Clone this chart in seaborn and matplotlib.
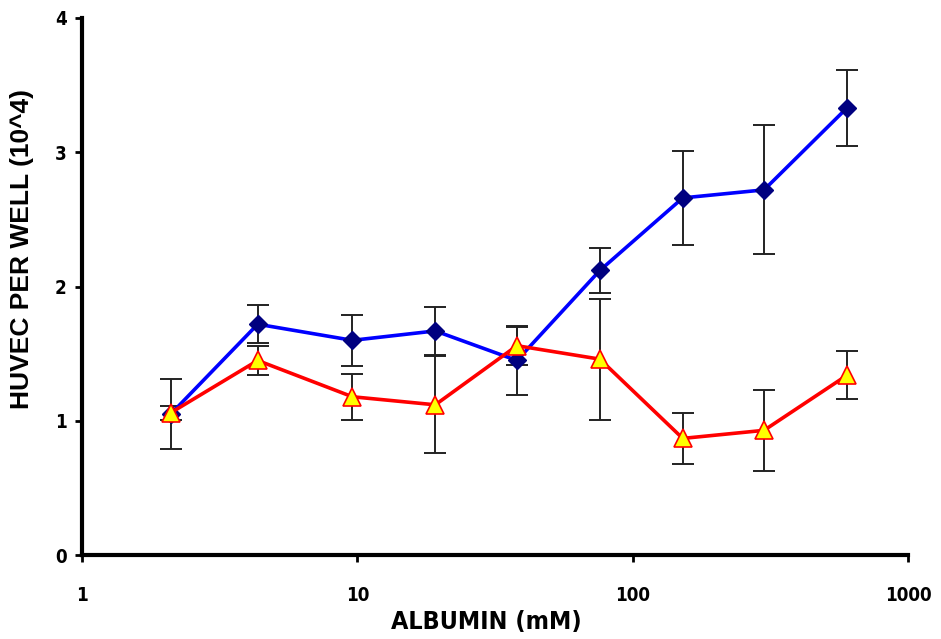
import matplotlib
matplotlib.use("Agg")
import matplotlib.pyplot as plt
from matplotlib import font_manager
from matplotlib.ticker import FixedLocator, NullLocator, FixedFormatter
import pandas as pd
import seaborn as sns

# Albumin concentration (mM) and HUVEC counts per well (x10^4)
albumin = [2.1, 4.35, 9.6, 19.2, 38.0, 76.0, 152.0, 300.0, 600.0]
huvec_blue = [1.05, 1.72, 1.60, 1.67, 1.45, 2.12, 2.66, 2.72, 3.33]
err_blue = [0.26, 0.14, 0.19, 0.18, 0.26, 0.17, 0.35, 0.48, 0.28]
huvec_red = [1.06, 1.45, 1.18, 1.12, 1.56, 1.46, 0.87, 0.93, 1.34]
err_red = [0.05, 0.11, 0.17, 0.36, 0.14, 0.45, 0.19, 0.30, 0.18]

x_ticks = [1, 10, 100, 1000]
x_tick_labels = ["1", "10", "100", "1000"]
y_ticks = [0, 1, 2, 3, 4]

sns.set_style("ticks")
plt.rcParams["font.family"] = ["Liberation Sans", "DejaVu Sans"]
plt.rcParams["text.color"] = "black"
plt.rcParams["axes.labelcolor"] = "black"
plt.rcParams["xtick.color"] = "black"
plt.rcParams["ytick.color"] = "black"

# condensed bold face for ticks and the x title, when one is installed
cond = None
for f in font_manager.fontManager.ttflist:
    if "Narrow" in f.name or ("Condensed" in f.fname and "Bold" in f.fname and "Sans" in f.fname
                              and "Oblique" not in f.fname and "Mono" not in f.fname):
        cond = f.fname
        break
if cond:
    narrow_props = dict(fname=cond)
else:
    narrow_props = dict(family="Liberation Sans", weight="bold")

blue = pd.DataFrame({"albumin": albumin, "huvec": huvec_blue})
red = pd.DataFrame({"albumin": albumin, "huvec": huvec_red})

fig = plt.figure(figsize=(9.41, 6.39), dpi=100)
ax = fig.add_axes([0.087, 0.131, 0.878, 0.841])

# error bars sit under the series lines and markers
ax.errorbar(albumin, huvec_blue, yerr=err_blue, fmt="none", ecolor="#222222",
            elinewidth=1.4, capsize=8, capthick=1.4, zorder=1)
ax.errorbar(albumin, huvec_red, yerr=err_red, fmt="none", ecolor="#222222",
            elinewidth=1.4, capsize=8, capthick=1.4, zorder=1)

sns.lineplot(data=blue, x="albumin", y="huvec", ax=ax, color="#0000FF",
             linewidth=2.6, marker="D", markersize=9, markerfacecolor="#000080",
             markeredgecolor="#000080", markeredgewidth=1, errorbar=None,
             estimator=None, zorder=3)
sns.lineplot(data=red, x="albumin", y="huvec", ax=ax, color="#FF0000",
             linewidth=2.6, marker="^", markersize=13, markerfacecolor="#FFFF00",
             markeredgecolor="#FF0000", markeredgewidth=1.2, errorbar=None,
             estimator=None, zorder=4)

ax.set_xscale("log")
ax.set_xlim(1, 1000)
ax.set_ylim(0, 4)
ax.xaxis.set_major_locator(FixedLocator(x_ticks))
ax.xaxis.set_major_formatter(FixedFormatter(x_tick_labels))
ax.xaxis.set_minor_locator(NullLocator())
ax.set_yticks(y_ticks)
ax.set_yticklabels([str(v) for v in y_ticks])

for side in ("top", "right"):
    ax.spines[side].set_visible(False)
for side in ("left", "bottom"):
    ax.spines[side].set_linewidth(3)
    ax.spines[side].set_color("black")
ax.tick_params(axis="both", which="major", direction="out", length=5,
               width=2, color="black", labelcolor="black")
ax.tick_params(axis="x", pad=17)
ax.tick_params(axis="y", pad=6)
tick_fp = font_manager.FontProperties(size=13.5, **narrow_props)
for lab in ax.get_xticklabels() + ax.get_yticklabels():
    lab.set_fontproperties(tick_fp)

ax.set_xlabel("ALBUMIN (mM)", color="black",
              fontproperties=font_manager.FontProperties(size=18, **narrow_props))
ax.xaxis.set_label_coords(0.49, -0.102)
ax.set_ylabel("HUVEC PER WELL (10^4)", fontsize=19, fontweight="bold", color="black")
ax.yaxis.set_label_coords(-0.058, 0.57)

fig.savefig("out.png", dpi=100, facecolor="white")
